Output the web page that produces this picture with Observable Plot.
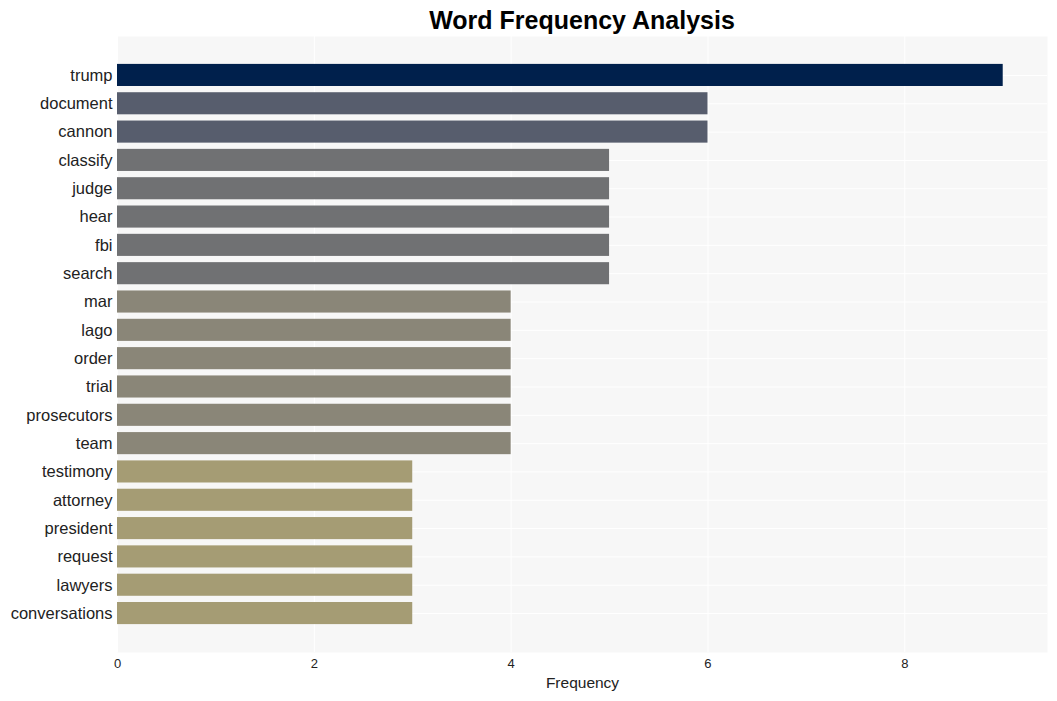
<!DOCTYPE html>
<html>
<head>
<meta charset="utf-8">
<script src="https://cdn.jsdelivr.net/npm/d3@7"></script>
<script src="https://cdn.jsdelivr.net/npm/@observablehq/plot@0.6"></script>
<style>
  body { margin: 0; background: #fff; font-family: "Liberation Sans", Arial, sans-serif; }
  #title { width: 1057px; box-sizing: border-box; padding-left: 117px; padding-right: 10px; height: 36px; line-height: 40px; text-align: center; font-weight: bold; font-size: 25px; color: #000; }
</style>
</head>
<body>
<div id="title">Word Frequency Analysis</div>
<div id="chart"></div>
<script>
const words = ["trump","document","cannon","classify","judge","hear","fbi","search","mar","lago","order","trial","prosecutors","team","testimony","attorney","president","request","lawyers","conversations"];
const freqs = [9,6,6,5,5,5,5,5,4,4,4,4,4,4,3,3,3,3,3,3];
const colorValues = [9,6,5,4,3];
const colorRange = ["#00204c","#575d6d","#707173","#8a8678","#a59c74"];
const xTicks = [0,2,4,6,8];

const data = words.map((w, i) => ({word: w, freq: freqs[i]}));

const chart = Plot.plot({
  width: 1057,
  height: 665,
  marginLeft: 117,
  marginRight: 10,
  marginTop: 0,
  marginBottom: 49,
  style: {fontFamily: '"Liberation Sans", Arial, sans-serif', color: "#222", background: "transparent"},
  x: {domain: [0, 9.45]},
  y: {domain: words, paddingInner: 0.22, paddingOuter: 0.985, round: false},
  color: {type: "ordinal", domain: colorValues, range: colorRange},
  marks: [
    Plot.frame({fill: "#f7f7f7", stroke: null}),
    Plot.ruleX(xTicks, {stroke: "#fff", strokeWidth: 1}),
    Plot.tickY(words, {y: d => d, stroke: "#fff", strokeWidth: 1}),
    Plot.barX(data, {x: "freq", y: "word", fill: d => d.freq}),
    Plot.axisX({ticks: xTicks, tickSize: 0, tickPadding: 6, fontSize: 13, label: null}),
    Plot.axisY({tickSize: 0, tickPadding: 5, fontSize: 16.5, label: null}),
    Plot.text(["Frequency"], {frameAnchor: "bottom", dy: 35, fontSize: 15.5, fill: "#222"})
  ]
});
document.getElementById("chart").appendChild(chart);
</script>
</body>
</html>
